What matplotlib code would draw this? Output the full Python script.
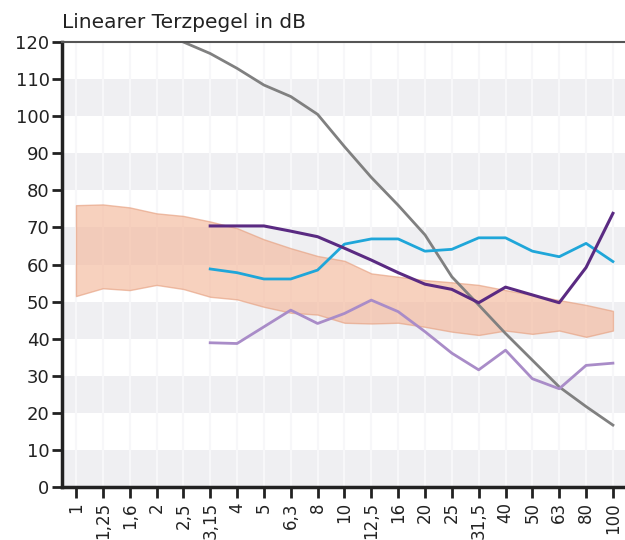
import matplotlib
matplotlib.use("Agg")
import matplotlib.pyplot as plt
import numpy as np

labels = ["1", "1,25", "1,6", "2", "2,5", "3,15", "4", "5", "6,3", "8", "10",
          "12,5", "16", "20", "25", "31,5", "40", "50", "63", "80", "100"]

band_top = [76, 76.2, 75.4, 73.8, 73.1, 71.6, 69.8, 66.8, 64.4, 62.3, 61,
            57.6, 56.7, 55.8, 55.2, 54.5, 53.1, 51.8, 50.4, 49.1, 47.5]
band_bot = [51.5, 53.6, 53.1, 54.5, 53.4, 51.3, 50.6, 48.6, 47, 46.5, 44.3,
            44.1, 44.3, 43.2, 41.9, 41, 42.2, 41.3, 42.2, 40.5, 42.2]

# series starting at 3,15 (index 5)
dark_purple = [70.4, 70.4, 70.4, 69, 67.5, 64.4, 61.2, 57.8, 54.7, 53.3,
               49.7, 53.9, 51.8, 49.7, 59.2, 73.8]
cyan = [58.8, 57.8, 56.1, 56.1, 58.5, 65.5, 66.9, 66.9, 63.6, 64.1,
        67.2, 67.2, 63.6, 62.1, 65.7, 60.8]
light_purple = [38.9, 38.7, 43.2, 47.7, 44.1, 46.8, 50.4, 47.3, 41.9, 36.1,
                31.6, 36.9, 29.2, 26.5, 32.8, 33.4]
# grey curve starting at 2,5 (index 4)
grey = [120, 116.9, 112.9, 108.4, 105.3, 100.5, 91.8, 83.5, 76, 68,
        56.7, 49.1, 41.4, 34.2, 27, 21.7, 16.7]

x = np.arange(len(labels))

fig = plt.figure(figsize=(6.25, 5.4), dpi=100)
ax = fig.add_axes([0.0992, 0.0981, 0.9008, 0.8241])

# alternating bands
for lo in range(0, 120, 20):
    ax.axhspan(lo, lo + 10, color="#efeff2", lw=0, zorder=0)
for xi in x:
    ax.axvline(xi, color="#f7f7f9", lw=1.5, zorder=0.5)

ax.fill_between(x, band_bot, band_top, facecolor="#f4b99c", alpha=0.65,
                edgecolor="#e6a080", lw=1, zorder=1)

ax.plot(x[4:], grey, color="#808080", lw=2, zorder=2)
ax.plot(x[5:], light_purple, color="#a98cc8", lw=2, zorder=3)
ax.plot(x[5:], cyan, color="#1fa6d9", lw=2, zorder=3)
ax.plot(x[5:], dark_purple, color="#5a2a82", lw=2.2, zorder=4)

ax.set_xlim(-0.52, 20.45)
ax.set_ylim(0, 120)
ax.set_yticks(range(0, 121, 10))
ax.set_xticks(x)
ax.set_xticklabels(labels, rotation=90)
ax.tick_params(axis="y", length=7, width=2, labelsize=13, pad=2, colors="#222222")
ax.tick_params(axis="x", length=8, width=2, labelsize=12, pad=3, colors="#222222")

for s in ["left", "bottom"]:
    ax.spines[s].set_linewidth(2.5)
    ax.spines[s].set_color("#222222")
ax.spines["right"].set_visible(False)
ax.spines["top"].set_linewidth(1.5)
ax.spines["top"].set_color("#555555")
ax.spines["top"].set_zorder(5)

fig.text(0.1, 0.958, "Linearer Terzpegel in dB", fontsize=14.5, color="#222222",
         va="center", ha="left")

fig.savefig("out.png", dpi=100)
